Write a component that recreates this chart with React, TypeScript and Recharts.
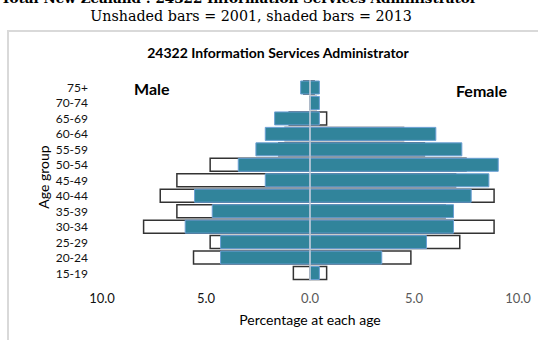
import { Bar, BarChart, ReferenceLine, XAxis, YAxis } from 'recharts';

const ageGroups = ['75+', '70-74', '65-69', '60-64', '55-59', '50-54', '45-49', '40-44', '35-39', '30-34', '25-29', '20-24', '15-19'];
const male2001 = [0.3, 0, 1.0, 1.2, 1.5, 4.8, 6.4, 7.2, 6.4, 8.0, 4.8, 5.6, 0.8];
const male2013 = [0.45, 0, 1.7, 2.15, 2.6, 3.45, 2.15, 5.55, 4.7, 6.0, 4.3, 4.3, 0];
const female2001 = [0.2, 0.3, 0.8, 4.5, 5.5, 7.5, 7.0, 8.85, 6.5, 8.85, 7.2, 4.85, 0.8];
const female2013 = [0.45, 0.45, 0.45, 6.05, 7.3, 9.05, 8.6, 7.75, 6.9, 6.9, 5.6, 3.45, 0.45];
const xTicks = [-10, -5, 0, 5, 10];

const data = ageGroups.map((age, i) => ({
    age,
    m2001: -male2001[i],
    f2001: female2001[i],
    m2013: -male2013[i],
    f2013: female2013[i],
}));

const font = 'Lato, "Open Sans", sans-serif';
const TEAL = '#31849b';

function XTick(props: any) {
    const { x, y, payload } = props;
    const v = payload.value as number;
    return (
        <text x={x} y={y} dy={13.5} textAnchor="middle" fontSize={13} fill={v < 0 ? '#111' : '#595959'}>
            {Math.abs(v).toFixed(1)}
        </text>
    );
}

export default function App() {
    return (
        <div style={{ position: 'absolute', left: 0, top: 0, width: 538, height: 340, overflow: 'hidden', background: '#fff', fontFamily: font }}>
            <div style={{ position: 'absolute', left: 0, width: 478, top: -12, lineHeight: '20px', textAlign: 'center', fontFamily: '"DejaVu Serif", serif', fontWeight: 'bold', fontSize: 13.5, whiteSpace: 'nowrap' }}>
                Total New Zealand :  24322 Information Services Administrator
            </div>
            <div style={{ position: 'absolute', left: 0, width: 502, top: 8, textAlign: 'center', fontFamily: '"DejaVu Serif", serif', fontSize: 14.3, whiteSpace: 'nowrap' }}>
                Unshaded bars = 2001, shaded bars = 2013
            </div>
            <div style={{ position: 'absolute', left: 7, top: 30, width: 600, height: 400, border: '2px solid #d9d9d9' }} />
            <div style={{ position: 'absolute', left: 0, width: 556, top: 44, textAlign: 'center', fontWeight: 'bold', fontSize: 14 }}>
                24322 Information Services Administrator
            </div>
            <div style={{ position: 'absolute', left: 134, top: 79, fontWeight: 'bold', fontSize: 16 }}>Male</div>
            <div style={{ position: 'absolute', left: 456, top: 81, fontWeight: 'bold', fontSize: 16 }}>Female</div>
            <div style={{ position: 'absolute', left: 43, top: 177, transform: 'translate(-50%, -50%) rotate(-90deg)', fontSize: 14, whiteSpace: 'nowrap' }}>
                Age group
            </div>
            <div style={{ position: 'absolute', left: 0, width: 620, top: 311, textAlign: 'center', fontSize: 14 }}>
                Percentage at each age
            </div>
            <div style={{ position: 'absolute', left: 0, top: 0 }}>
                <BarChart
                    width={538}
                    height={340}
                    data={data}
                    layout="vertical"
                    stackOffset="sign"
                    barSize={13}
                    barGap={-13}
                    margin={{ top: 80, right: 20, bottom: 34, left: 2 }}
                >
                    <XAxis type="number" domain={[-10, 10]} ticks={xTicks} axisLine={false} tickLine={false} tick={<XTick />} height={25} />
                    <YAxis
                        type="category"
                        dataKey="age"
                        width={100}
                        axisLine={false}
                        tickLine={false}
                        tickMargin={8}
                        tick={{ fontSize: 12, fill: '#111' }}
                        interval={0}
                    />
                    <Bar dataKey="m2001" stackId="a" fill="#fff" stroke="#333" strokeWidth={1.5} isAnimationActive={false} />
                    <Bar dataKey="f2001" stackId="a" fill="#fff" stroke="#333" strokeWidth={1.5} isAnimationActive={false} />
                    <Bar dataKey="m2013" stackId="b" fill={TEAL} stroke="#6a9fd4" strokeWidth={1} isAnimationActive={false} />
                    <Bar dataKey="f2013" stackId="b" fill={TEAL} stroke="#6a9fd4" strokeWidth={1} isAnimationActive={false} />
                    <ReferenceLine x={0} stroke="#c5ced8" strokeWidth={1.5} />
                </BarChart>
            </div>
        </div>
    );
}
